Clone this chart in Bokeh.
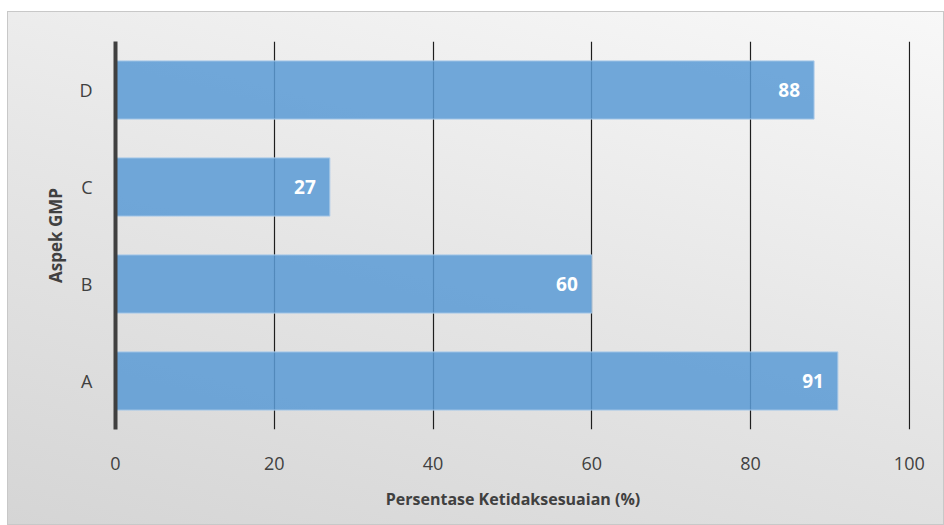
from bokeh.plotting import figure
from bokeh.models import Range1d, FactorRange, ColumnDataSource, Spacer
from bokeh.layouts import column, row
from bokeh.core.properties import value
from bokeh.embed import file_html
from bokeh.resources import INLINE

categories = ["A", "B", "C", "D"]
values = [91, 60, 27, 88]
labels = ["91", "60", "27", "88"]
x_ticks = [0, 20, 40, 60, 80, 100]
x_title = "Persentase Ketidaksesuaian (%)"
y_title = "Aspek GMP"

FONT = "Open Sans"

src = ColumnDataSource(dict(cat=categories, val=values, lab=labels))

p = figure(width=937, height=514, output_backend="svg", toolbar_location=None,
           y_range=FactorRange(factors=categories, range_padding=0),
           x_range=Range1d(0, 100.15),
           min_border_left=107, min_border_right=35, min_border_top=29, min_border_bottom=97)

p.background_fill_alpha = 0
p.border_fill_alpha = 0
p.outline_line_color = None
p.styles = {"background": "linear-gradient(195deg, #f8f8f8 0%, #e6e6e6 50%, #d5d5d5 100%)",
            "border": "1px solid #c8c8c8", "box-sizing": "border-box"}

p.hbar(y="cat", right="val", left=0, height=0.6, source=src,
       fill_color="#5b9bd5", fill_alpha=0.86, line_color="#a9c9e8", line_width=1)

p.text(x="val", y="cat", text="lab", source=src, x_offset=-14,
       text_align="right", text_baseline="middle", text_color="white",
       text_font=value(FONT), text_font_style="bold", text_font_size="19px")

# x axis
p.xaxis.ticker = x_ticks
p.xaxis.axis_line_color = None
p.xaxis.major_tick_line_color = None
p.xaxis.minor_tick_line_color = None
p.xaxis.major_label_standoff = 21
p.xaxis.major_label_text_font = FONT
p.xaxis.major_label_text_font_size = "18px"
p.xaxis.major_label_text_color = "#404040"
p.xaxis.axis_label = x_title
p.xaxis.axis_label_text_font = FONT
p.xaxis.axis_label_text_font_style = "bold"
p.xaxis.axis_label_text_font_size = "16px"
p.xaxis.axis_label_text_color = "#404040"
p.xaxis.axis_label_standoff = 15

# y axis
p.yaxis.axis_line_color = "#404040"
p.yaxis.axis_line_width = 4
p.yaxis.major_tick_line_color = None
p.yaxis.minor_tick_line_color = None
p.yaxis.major_label_standoff = 17
p.yaxis.major_label_text_font = FONT
p.yaxis.major_label_text_font_size = "18px"
p.yaxis.major_label_text_color = "#404040"
p.yaxis.axis_label = y_title
p.yaxis.axis_label_text_font = FONT
p.yaxis.axis_label_text_font_style = "bold"
p.yaxis.axis_label_text_font_size = "17px"
p.yaxis.axis_label_text_color = "#404040"
p.yaxis.axis_label_standoff = 9

p.ygrid.grid_line_color = None
p.xgrid.grid_line_color = "#1e1e1e"
p.xgrid.grid_line_width = 1.2
p.xgrid.level = "underlay"

layout = column(Spacer(height=11, width=944), row(Spacer(width=7, height=514), p))

open("out.html", "w").write(file_html(layout, INLINE))
